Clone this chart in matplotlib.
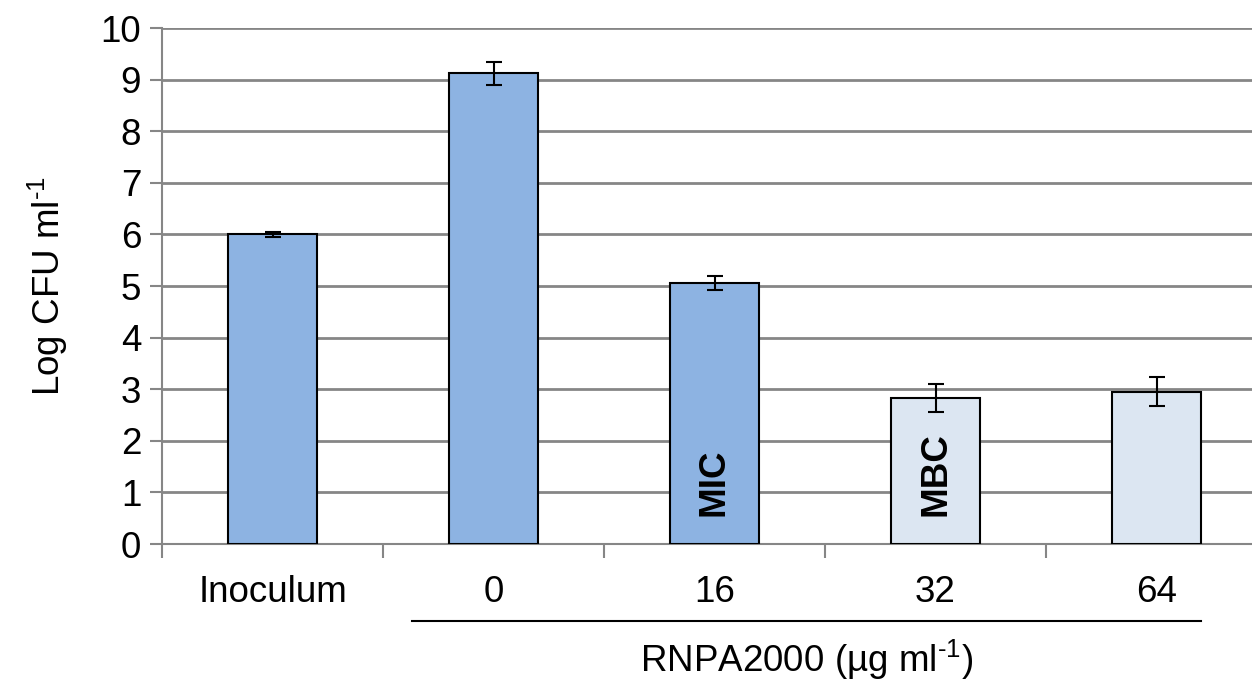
import matplotlib
matplotlib.use("Agg")
import matplotlib.pyplot as plt
import numpy as np

plt.rcParams["font.family"] = ["Liberation Sans", "DejaVu Sans"]
plt.rcParams["mathtext.fontset"] = "custom"
plt.rcParams["mathtext.rm"] = "Liberation Sans"
plt.rcParams["mathtext.it"] = "Liberation Sans:italic"
plt.rcParams["mathtext.bf"] = "Liberation Sans:bold"

categories = ["Inoculum", "0", "16", "32", "64"]
log_cfu = [6.0, 9.12, 5.06, 2.83, 2.95]
log_cfu_err = [0.05, 0.23, 0.13, 0.28, 0.28]
bar_colors = ["#8db3e2", "#8db3e2", "#8db3e2", "#dce6f2", "#dce6f2"]
bar_notes = {2: "MIC", 3: "MBC"}

grey = "#868686"
per_ml = r"ml$^{\text{-}1}$"

fig = plt.figure(figsize=(12.52, 6.86), dpi=100)
ax = fig.add_axes([162 / 1252, 142 / 686, 1105 / 1252, 516 / 686])

x = np.arange(len(categories))
ax.bar(x, log_cfu, width=0.4, color=bar_colors, edgecolor="black", linewidth=1.5, zorder=3)
ax.errorbar(x, log_cfu, yerr=log_cfu_err, fmt="none", ecolor="black",
            elinewidth=1.5, capsize=6, capthick=1.5, zorder=4)

for i, note in bar_notes.items():
    ax.text(x[i], 0.55, note, rotation=90, ha="center", va="bottom",
            fontsize=26.5, fontweight="bold", zorder=5)

ax.set_xlim(-0.5, len(categories) - 0.5)
ax.set_ylim(0, 10)
ax.set_yticks(range(0, 11))
ax.yaxis.grid(True, color=grey, linewidth=2)
ax.set_axisbelow(True)

ax.set_xticks(np.arange(-0.5, len(categories), 1.0))
ax.set_xticklabels([])
ax.set_xticks(x, minor=True)
ax.set_xticklabels(categories, minor=True)
ax.tick_params(axis="x", which="minor", length=0, pad=22, labelsize=26.5)
ax.tick_params(axis="x", which="major", length=10, width=1.5, color=grey, direction="out")
ax.tick_params(axis="y", length=9, width=1.5, color=grey, labelsize=26.5, pad=6)

for side in ("top", "right"):
    ax.spines[side].set_visible(False)
for side in ("left", "bottom"):
    ax.spines[side].set_color(grey)
    ax.spines[side].set_linewidth(1.5)

ax.set_ylabel("Log CFU " + per_ml, fontsize=26.5, labelpad=22)

# bracket under the RNPA2000 concentrations
ax.plot([x[1] - 0.37, x[-1] + 0.2], [-1.5, -1.5], color="black", linewidth=1.5,
        clip_on=False)
ax.text(np.mean([x[1] - 0.37, x[-1] + 0.2]), -2.25, "RNPA2000 (µg " + per_ml + ")",
        ha="center", va="center", fontsize=26.5)

fig.savefig("out.png", dpi=100)
